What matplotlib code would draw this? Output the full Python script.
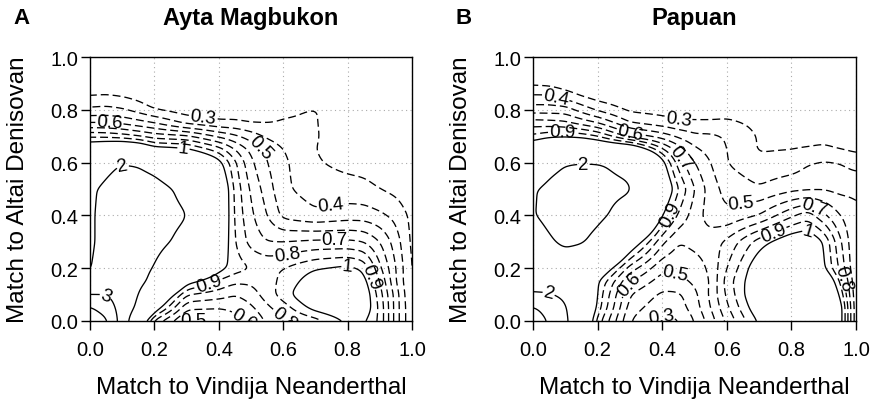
import numpy as np
import matplotlib
matplotlib.use("Agg")
import matplotlib.pyplot as plt

plt.rcParams['font.family'] = ['Liberation Sans', 'DejaVu Sans']

xs = [0, .05, .1, .15, .2, .3, .4, .45, .5, .55, .6, .7, .8, .85, .9, .95, 1.0]
ys = [0, .05, .1, .15, .2, .3, .4, .5, .6, .65, .7, .75, .8, .85, .9, 1.0]

# Ayta Magbukon, rows from y=0 upwards
ayta = [
    [4.8, 4.2, 2.5, 1.2, 0.75, 0.47, 0.52, 0.57, 0.6, 0.72, 0.78, 0.85, 1.02, 1.02, 0.88, 0.55, 0.3],
    [4.1, 3.5, 2.6, 1.8, 1.1, 0.62, 0.6, 0.62, 0.68, 0.78, 0.85, 1.05, 1.15, 1.1, 0.88, 0.55, 0.3],
    [3.0, 3.0, 2.6, 2.0, 1.3, 0.8, 0.75, 0.7, 0.75, 0.85, 0.95, 1.15, 1.2, 1.1, 0.85, 0.55, 0.28],
    [2.05, 2.5, 2.5, 2.2, 1.8, 1.05, 0.88, 0.82, 0.82, 0.87, 0.92, 1.08, 1.12, 1.05, 0.8, 0.5, 0.28],
    [1.97, 2.2, 2.35, 2.2, 1.97, 1.45, 1.05, 0.95, 0.9, 0.88, 0.9, 0.99, 1.03, 0.98, 0.72, 0.5, 0.28],
    [1.93, 2.15, 2.3, 2.3, 2.15, 1.85, 1.15, 0.9, 0.76, 0.7, 0.7, 0.72, 0.72, 0.7, 0.6, 0.45, 0.27],
    [1.93, 2.15, 2.3, 2.3, 2.2, 2.02, 1.2, 0.88, 0.72, 0.6, 0.47, 0.42, 0.45, 0.45, 0.42, 0.37, 0.27],
    [1.92, 2.1, 2.25, 2.25, 2.2, 1.85, 1.2, 0.87, 0.68, 0.55, 0.42, 0.35, 0.34, 0.33, 0.3, 0.27, 0.22],
    [1.6, 1.85, 2.0, 1.95, 1.8, 1.35, 1.05, 0.82, 0.62, 0.5, 0.42, 0.31, 0.27, 0.26, 0.24, 0.22, 0.2],
    [1.15, 1.2, 1.25, 1.2, 1.05, 1.02, 0.85, 0.7, 0.57, 0.48, 0.4, 0.3, 0.25, 0.24, 0.23, 0.21, 0.19],
    [0.88, 0.87, 0.84, 0.8, 0.75, 0.72, 0.58, 0.52, 0.45, 0.38, 0.34, 0.31, 0.23, 0.22, 0.21, 0.2, 0.18],
    [0.6, 0.6, 0.58, 0.54, 0.5, 0.37, 0.32, 0.32, 0.3, 0.3, 0.31, 0.31, 0.21, 0.2, 0.2, 0.19, 0.18],
    [0.42, 0.43, 0.41, 0.36, 0.3, 0.25, 0.24, 0.24, 0.23, 0.24, 0.28, 0.31, 0.19, 0.18, 0.18, 0.17, 0.17],
    [0.31, 0.32, 0.3, 0.27, 0.23, 0.2, 0.19, 0.19, 0.19, 0.19, 0.2, 0.21, 0.18, 0.17, 0.17, 0.16, 0.16],
    [0.2, 0.2, 0.2, 0.19, 0.18, 0.17, 0.16, 0.16, 0.16, 0.16, 0.16, 0.16, 0.15, 0.15, 0.15, 0.15, 0.15],
    [0.1] * 17,
]

# Papuan
papuan = [
    [3.6, 2.9, 2.15, 1.3, 0.85, 0.4, 0.27, 0.29, 0.4, 0.55, 0.72, 1.02, 1.2, 1.22, 1.2, 1.1, 0.5],
    [3.1, 2.6, 2.05, 1.4, 0.95, 0.45, 0.33, 0.35, 0.45, 0.6, 0.78, 1.1, 1.28, 1.3, 1.25, 1.1, 0.5],
    [2.05, 2.02, 1.85, 1.55, 0.97, 0.5, 0.38, 0.38, 0.47, 0.62, 0.82, 1.15, 1.3, 1.32, 1.25, 1.0, 0.5],
    [1.75, 1.75, 1.7, 1.45, 1.0, 0.6, 0.45, 0.47, 0.52, 0.6, 0.85, 1.12, 1.3, 1.32, 1.2, 0.9, 0.5],
    [1.65, 1.7, 1.75, 1.55, 1.2, 0.75, 0.52, 0.52, 0.55, 0.62, 0.8, 1.1, 1.25, 1.25, 1.02, 0.78, 0.5],
    [1.75, 1.95, 2.08, 2.05, 1.85, 1.15, 0.72, 0.6, 0.63, 0.65, 0.72, 0.95, 1.1, 1.12, 1.0, 0.72, 0.5],
    [1.97, 2.12, 2.2, 2.2, 2.12, 1.75, 1.0, 0.78, 0.65, 0.55, 0.52, 0.6, 0.78, 0.86, 0.72, 0.6, 0.52],
    [1.96, 2.1, 2.18, 2.18, 2.15, 2.05, 1.2, 0.9, 0.7, 0.55, 0.46, 0.41, 0.47, 0.48, 0.49, 0.47, 0.48],
    [1.5, 1.85, 1.98, 2.03, 2.02, 1.85, 1.05, 0.75, 0.6, 0.5, 0.4, 0.33, 0.34, 0.39, 0.41, 0.4, 0.36],
    [1.15, 1.25, 1.3, 1.3, 1.25, 1.2, 0.82, 0.65, 0.52, 0.46, 0.4, 0.29, 0.3, 0.31, 0.32, 0.3, 0.28],
    [0.92, 0.97, 0.98, 0.96, 0.9, 0.65, 0.55, 0.48, 0.42, 0.42, 0.39, 0.29, 0.26, 0.26, 0.27, 0.25, 0.24],
    [0.75, 0.74, 0.72, 0.66, 0.6, 0.4, 0.35, 0.32, 0.32, 0.32, 0.33, 0.27, 0.24, 0.23, 0.23, 0.22, 0.21],
    [0.55, 0.55, 0.55, 0.46, 0.38, 0.28, 0.26, 0.25, 0.24, 0.24, 0.24, 0.22, 0.2, 0.2, 0.2, 0.2, 0.19],
    [0.42, 0.42, 0.36, 0.3, 0.26, 0.22, 0.2, 0.2, 0.19, 0.19, 0.19, 0.18, 0.18, 0.17, 0.17, 0.17, 0.17],
    [0.28, 0.27, 0.24, 0.21, 0.19, 0.17, 0.16, 0.16, 0.16, 0.16, 0.16, 0.15, 0.15, 0.15, 0.15, 0.15, 0.15],
    [0.1] * 17,
]

levels = [0.3, 0.4, 0.5, 0.6, 0.7, 0.8, 0.9, 1, 2, 3, 4]
ticks = [0.0, 0.2, 0.4, 0.6, 0.8, 1.0]


def smooth_field(z, n=201, sigma=2.5):
    # resample the read-off grid and soften the corners a bit
    f = np.linspace(0, 1, n)
    z = np.asarray(z, dtype=float)
    tmp = np.array([np.interp(f, xs, row) for row in z])
    zz = np.array([np.interp(f, ys, col) for col in tmp.T]).T
    k = np.arange(-8, 9)
    g = np.exp(-0.5 * (k / sigma) ** 2)
    g /= g.sum()
    p = np.pad(zz, 8, mode='edge')
    p = np.array([np.convolve(r, g, mode='valid') for r in p])
    p = np.array([np.convolve(c, g, mode='valid') for c in p.T]).T
    return f, p


def draw_panel(ax, z, title, letter, label_pos):
    f, zz = smooth_field(z)
    styles = [(0, (6, 3)) if lv < 1 else 'solid' for lv in levels]
    cs = ax.contour(f, f, zz, levels=levels, colors='black',
                    linewidths=0.95, linestyles=styles)
    ax.clabel(cs, fmt='%g', fontsize=13.5, inline=True, inline_spacing=1,
              manual=label_pos)
    ax.set_xlim(0, 1)
    ax.set_ylim(0, 1)
    ax.set_xticks(ticks)
    ax.set_yticks(ticks)
    ax.set_xticklabels(['%.1f' % t for t in ticks])
    ax.set_yticklabels(['%.1f' % t for t in ticks])
    ax.tick_params(direction='out', length=6.5, width=1, labelsize=14.5)
    ax.tick_params(axis='x', pad=7)
    ax.tick_params(axis='y', pad=2)
    ax.grid(True, linestyle=(0, (1, 3)), color='#aaaaaa', linewidth=0.8)
    for s in ax.spines.values():
        s.set_linewidth(1.0)
    ax.set_xlabel('Match to Vindija Neanderthal', fontsize=17.5)
    ax.set_ylabel('Match to Altai Denisovan', fontsize=17.5)
    ax.xaxis.set_label_coords(0.5, -0.21)
    ax.yaxis.set_label_coords(-0.19, 0.5)
    ax.text(0.5, 1.0 + 40 / 264, title, transform=ax.transAxes,
            fontsize=17, fontweight='bold', ha='center', va='center')
    ax.text(-77 / 322, 1.0 + 40 / 264, letter, transform=ax.transAxes,
            fontsize=16, fontweight='bold', va='center', ha='left')


fig = plt.figure(figsize=(8.71, 4.02), dpi=100)
ax1 = fig.add_axes([90 / 871, 80 / 402, 322 / 871, 264 / 402])
ax2 = fig.add_axes([533 / 871, 80 / 402, 323 / 871, 264 / 402])

draw_panel(ax1, ayta, 'Ayta Magbukon', 'A',
           [(0.06, 0.745), (0.35, 0.77), (0.29, 0.65), (0.535, 0.665),
            (0.1, 0.6), (0.745, 0.46), (0.76, 0.3), (0.615, 0.235),
            (0.37, 0.145), (0.8, 0.21), (0.876, 0.17), (0.05, 0.1),
            (0.32, 0.01), (0.48, 0.01), (0.61, 0.02)])
draw_panel(ax2, papuan, 'Papuan', 'B',
           [(0.07, 0.845), (0.09, 0.715), (0.3, 0.708), (0.45, 0.765),
            (0.45, 0.614), (0.434, 0.4), (0.156, 0.6), (0.646, 0.43),
            (0.868, 0.424), (0.85, 0.33), (0.744, 0.336), (0.96, 0.16),
            (0.29, 0.146), (0.44, 0.19), (0.4, 0.01), (0.046, 0.09)])

fig.savefig('out.png', dpi=100)
